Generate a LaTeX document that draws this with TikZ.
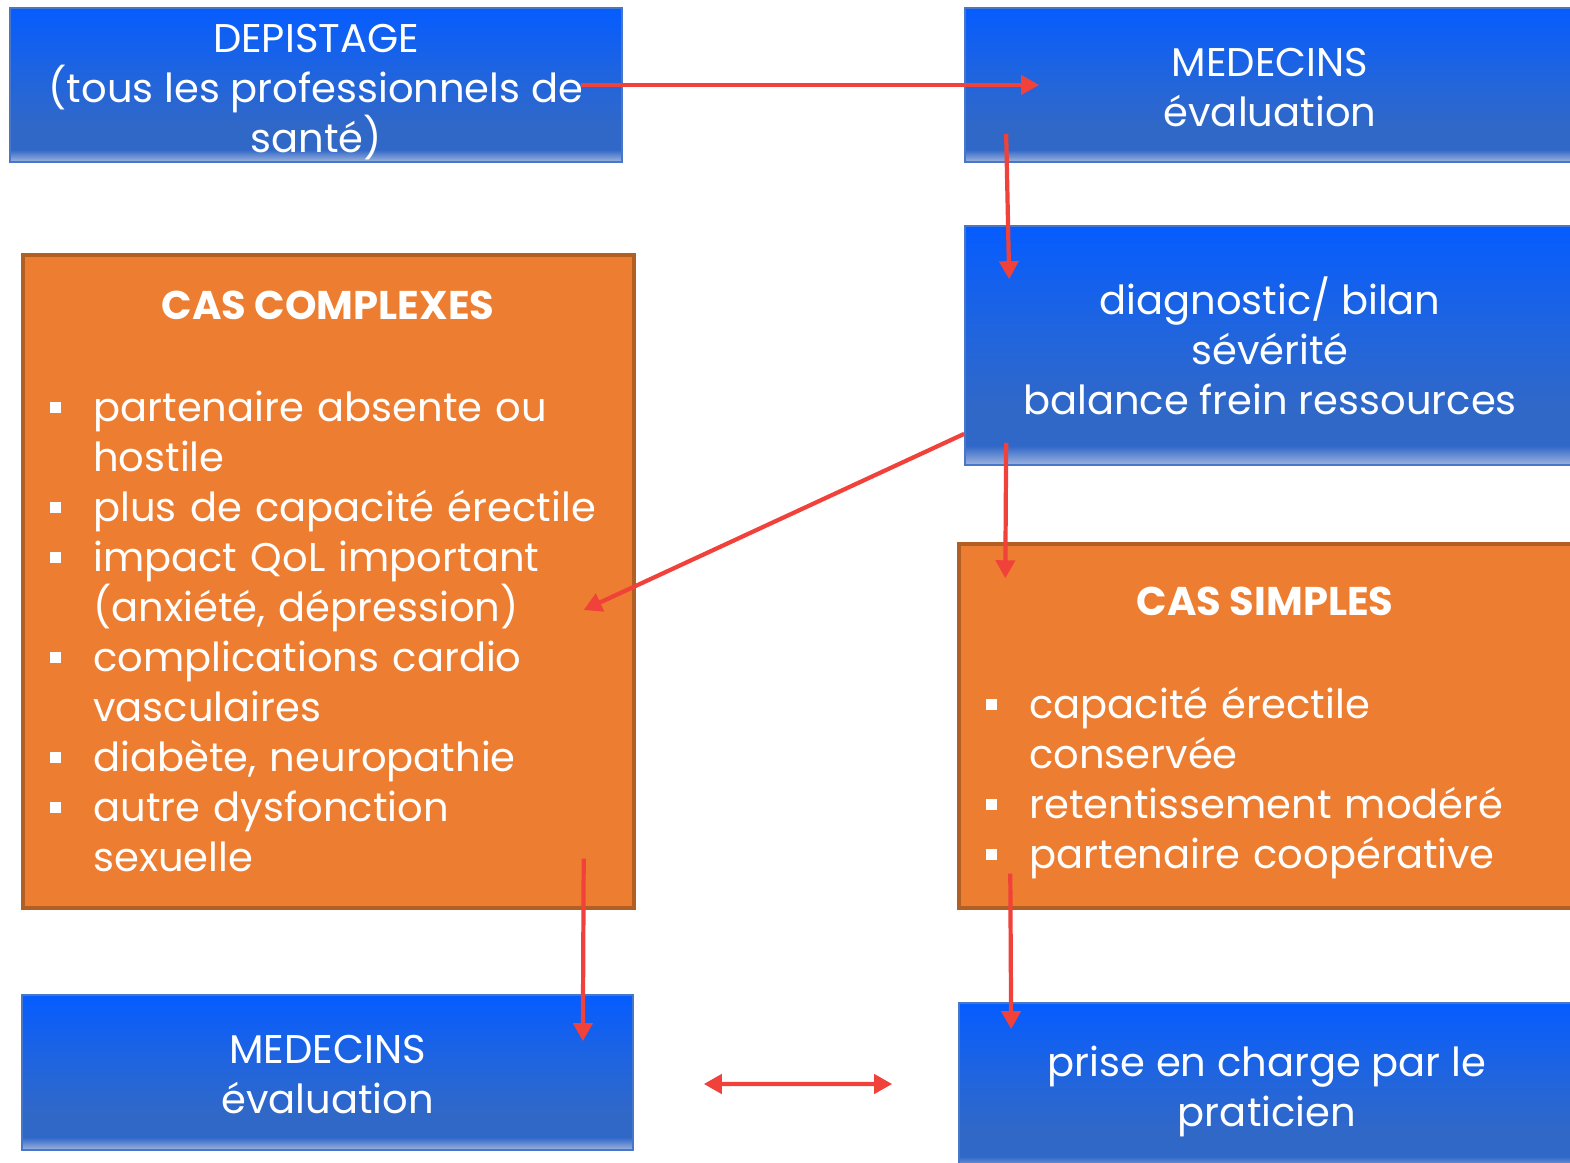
\documentclass[tikz,border=0pt]{standalone}
\usepackage{fontspec}
\setmainfont{Poppins}
\usetikzlibrary{arrows.meta}

\definecolor{boxtop}{RGB}{5,92,255}
\definecolor{boxmid}{RGB}{30,100,225}
\definecolor{boxlow}{RGB}{48,104,200}
\definecolor{boxbot}{RGB}{160,180,222}
\definecolor{boxline}{RGB}{72,118,200}
\definecolor{casefill}{RGB}{237,125,49}
\definecolor{caseline}{RGB}{178,95,36}
\definecolor{arrowred}{RGB}{240,66,58}

\pgfdeclareverticalshading{bluefade}{100bp}{color(0bp)=(boxbot); color(25bp)=(boxbot);
  color(29bp)=(boxlow); color(37bp)=(boxlow); color(55bp)=(boxmid); color(75bp)=(boxtop);
  color(100bp)=(boxtop)}

\newcommand{\boxfont}{\fontsize{22.8pt}{28.45pt}\selectfont}
\newenvironment{caslist}{\begin{list}{\rule[0.16cm]{0.22cm}{0.22cm}}{%
    \setlength\leftmargin{0.86cm}\setlength\labelwidth{0.22cm}%
    \setlength\labelsep{0.64cm}\setlength\itemsep{0pt}\setlength\parsep{0pt}%
    \setlength\topsep{0pt}\setlength\partopsep{0pt}}}{\end{list}}

\tikzset{bluebox/.style={draw=boxline,line width=1pt,shading=bluefade,
                         text=white,align=center,inner sep=0pt,font=\boxfont}}
\tikzset{casebox/.style={draw=caseline,line width=2pt,fill=casefill,inner sep=0pt}}

\begin{document}
\begin{tikzpicture}[x=0.02cm,y=-0.02cm,
      % styles for the case boxes
      castitle/.style={text=white,font=\boxfont\bfseries},
      caslines/.style={text=white,font=\boxfont,text width=12cm,align=left,
                       inner sep=0pt,anchor=north west},
      link/.style={draw=arrowred,line width=2.4pt,
                   -{Triangle[length=0.36cm,width=0.38cm]}},
      both/.style={link,{Triangle[length=0.36cm,width=0.38cm]}-{Triangle[length=0.36cm,width=0.38cm]}}
    ]
    \useasboundingbox (0,0) rectangle (1570,1163);

    % blue boxes
    \node[bluebox,minimum width=12.24cm,minimum height=3.08cm] (dep) at (316,85)
      {\rule{0pt}{0.85cm}DEPISTAGE\\(tous les professionnels de\\santé)};
    \node[bluebox,minimum width=12.2cm,minimum height=3.08cm] (medA) at (1270,85)
      {\rule{0pt}{0.68cm}MEDECINS\\évaluation};
    \node[bluebox,minimum width=12.2cm,minimum height=4.78cm] (diag) at (1270,345.5)
      {diagnostic/ bilan\\sévérité\\balance frein ressources};
    \node[bluebox,minimum width=12.22cm,minimum height=3.1cm] (medB) at (327.5,1072.5)
      {\rule{0pt}{0.66cm}MEDECINS\\évaluation};
    \node[bluebox,minimum width=12.32cm,minimum height=3.34cm] (prise) at (1267,1086.5)
      {\rule{0pt}{0.8cm}prise en charge par le\\praticien};

    % orange boxes
    \node[casebox,minimum width=12.22cm,minimum height=13.06cm] (cplx) at (328.5,581.5) {};
    \node[castitle] (cplxtitle) at (328,305) {CAS COMPLEXES};
    \node[caslines] (cplxlist) at (50,371) {\begin{caslist}
      \item partenaire absente ou\\hostile
      \item plus de capacité érectile
      \item impact QoL important\\(anxiété, dépression)
      \item complications cardio\\vasculaires
      \item diabète, neuropathie
      \item autre dysfonction\\sexuelle
    \end{caslist}};

    \node[casebox,minimum width=12.32cm,minimum height=7.28cm] (simp) at (1267,726) {};
    \node[castitle] (simptitle) at (1265,601) {CAS SIMPLES};
    \node[caslines] (simplist) at (986,668) {\begin{caslist}
      \item capacité érectile\\conservée
      \item retentissement modéré
      \item partenaire coopérative
    \end{caslist}};

    % arrows
    \draw[link] ([xshift=-0.84cm]dep.east) -- ([xshift=1.5cm]medA.west);
    \draw[link] ([shift={(0.84cm,0.58cm)}]medA.south west)
      -- ([shift={(0.9cm,-1.08cm)}]diag.north west);
    \draw[link] ([yshift=0.64cm]diag.south west)
      -- ([shift={(-1.04cm,-0.57cm)}]cplx.east);
    \draw[link] ([shift={(0.84cm,0.46cm)}]diag.south west)
      -- ([shift={(0.96cm,-0.72cm)}]simp.north west);
    \draw[link] ([shift={(-1.04cm,1.02cm)}]cplx.south east)
      -- ([shift={(-1.02cm,-0.94cm)}]medB.north east);
    \draw[link] ([shift={(1.06cm,0.72cm)}]simp.south west)
      -- ([shift={(1.06cm,-0.54cm)}]prise.north west);
    \draw[both] ([shift={(1.4cm,-0.23cm)}]medB.east)
      -- ([shift={(-1.32cm,0.05cm)}]prise.west);
  \end{tikzpicture}
\end{document}
